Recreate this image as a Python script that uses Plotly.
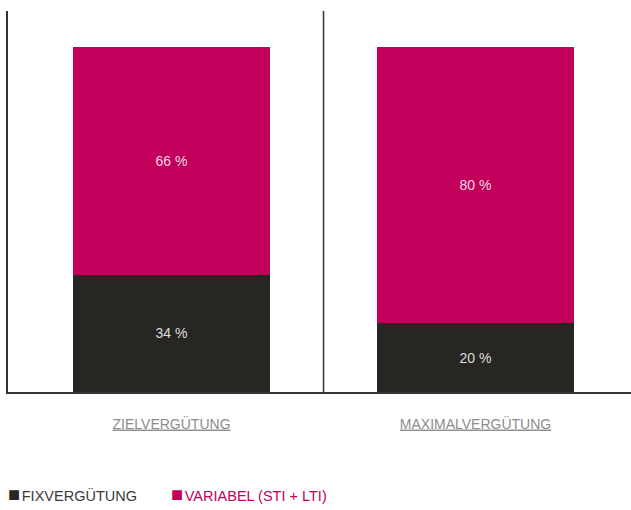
import plotly.graph_objects as go

categories = ["ZIELVERGÜTUNG", "MAXIMALVERGÜTUNG"]
series_names = ["FIXVERGÜTUNG", "VARIABEL (STI + LTI)"]
fix_values = [34, 20]
variable_values = [66, 80]
colors = ["#272622", "#C2005B"]
label_colors = ["#3a3a3a", "#C2005B"]

FONT = "Liberation Sans"
xpos = list(range(len(categories)))

fig = go.Figure()
for name, vals, col in zip(series_names, [fix_values, variable_values], colors):
    fig.add_trace(go.Bar(
        x=xpos, y=vals, name=name, marker=dict(color=col, line=dict(width=0)),
        width=0.648,
        text=[f"{v} %" for v in vals], textposition="inside",
        insidetextanchor="middle",
        textfont=dict(family=FONT, size=14, color="rgba(255,255,255,0.85)"),
        showlegend=False, hoverinfo="skip",
    ))

# separator between categories
fig.add_shape(type="line", xref="x", yref="paper", x0=0.5, x1=0.5, y0=0, y1=1,
              line=dict(color="#333333", width=1.5))

# custom legend
legend_x = [-0.003, 0.258]
for i, (name, col, lc) in enumerate(zip(series_names, colors, label_colors)):
    fig.add_annotation(
        xref="paper", yref="paper", x=legend_x[i], y=-(494 - 392) / 381,
        xanchor="left", yanchor="middle", showarrow=False,
        text=f"<span style='color:{col};font-size:20px'>■</span><span style='font-size:6px'> </span>{name}",
        font=dict(family=FONT, size=14.5, color=lc),
    )

fig.update_layout(
    barmode="stack",
    width=631, height=510,
    margin=dict(l=8, r=0, t=11, b=118),
    plot_bgcolor="white", paper_bgcolor="white",
    xaxis=dict(
        range=[-0.538, 1.5115], tickvals=xpos,
        ticktext=[f"<u>{c}</u>" for c in categories],
        tickfont=dict(family=FONT, size=14, color="#8c8c8c"),
        showline=True, linecolor="#333333", linewidth=1.5,
        showgrid=False, zeroline=False, ticks="", ticklabelstandoff=18,
    ),
    yaxis=dict(
        range=[0, 110.43], showline=True, linecolor="#333333", linewidth=1.5,
        showgrid=False, zeroline=False, showticklabels=False, ticks="",
    ),
)

fig.write_html("out.html")
